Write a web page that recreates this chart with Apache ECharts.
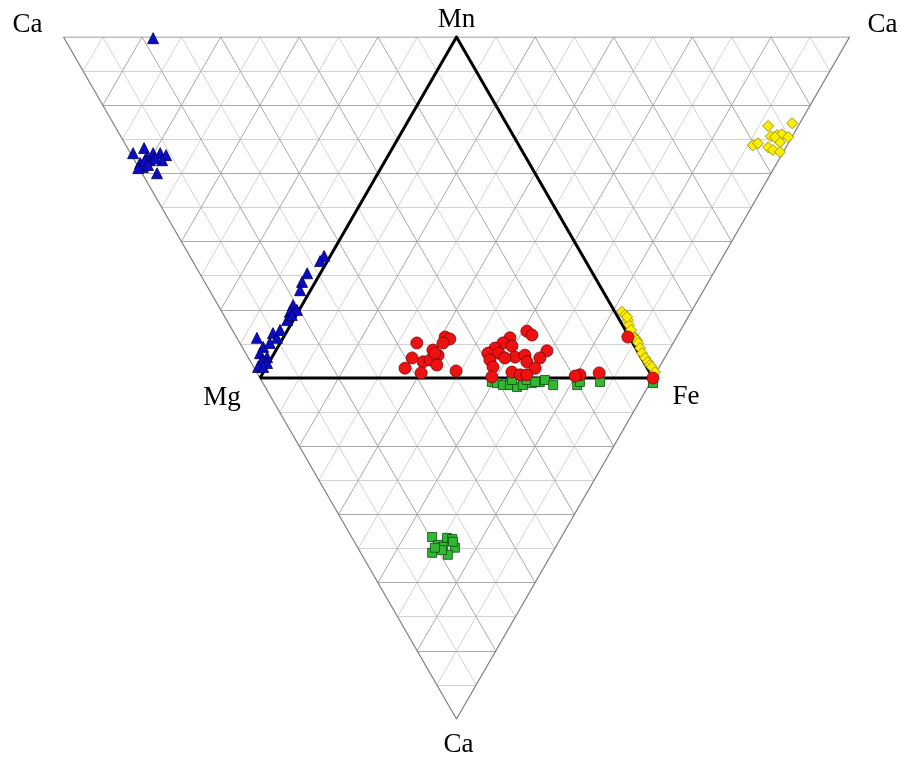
<!DOCTYPE html>
<html>
<head>
<meta charset="utf-8">
<script src="https://cdn.jsdelivr.net/npm/echarts@6/dist/echarts.min.js"></script>
<style>html,body{margin:0;padding:0;background:#fff}#c{width:902px;height:760px}</style>
</head>
<body>
<div id="c"></div>
<script>
// Ternary-plot coordinates: side of central Mg-Fe-Mn triangle = 100, Mg at (0,0), Fe at (100,0)
const H = 50 * Math.sqrt(3);
const vertexNames = ['Ca', 'Mn', 'Ca', 'Mg', 'Fe', 'Ca'];
const vertexCoords = [[-50, H], [50, H], [150, H], [0, 0], [100, 0], [50, -H]];
const gridDivisions = 20;

const blueTriangles = [
  [-27.2, 86.3],
  [-32.3, 57.1], [-29.5, 58.4], [-27.2, 57.1], [-25.4, 57.1], [-23.9, 56.6], [-30.5, 54.6],
  [-28.0, 55.3], [-29.8, 53.6], [-31.0, 53.3], [-26.2, 52.0], [-24.9, 55.3], [-28.8, 56.1],
  [-29.3, 55.3], [-26.7, 55.8], [-28.5, 54.1],
  [16.3, 31.0], [15.3, 29.7], [12.0, 26.6], [10.7, 24.4], [10.2, 22.3], [8.4, 18.5],
  [7.6, 16.8], [6.9, 14.7], [9.4, 17.3], [8.1, 16.0], [3.3, 11.4], [4.3, 10.2],
  [-0.8, 10.2], [0.8, 7.9], [0.0, 6.3], [1.8, 5.3], [0.5, 4.6], [-0.5, 2.8],
  [1.8, 3.8], [5.1, 12.2], [2.5, 8.9], [0.8, 2.8]
];
const yellowDiamonds = [
  [129.3, 64.0], [135.4, 64.7], [130.0, 61.4], [131.6, 61.7], [132.8, 61.9], [134.4, 61.2],
  [132.3, 59.9], [125.4, 59.1], [126.7, 59.6], [129.3, 58.6], [130.5, 57.9], [132.3, 57.4],
  [131.0, 61.2],
  [92.1, 16.8], [92.9, 16.0], [93.6, 14.7], [93.9, 13.5], [94.9, 10.9], [95.4, 10.2],
  [95.9, 9.6], [96.2, 8.9], [96.7, 7.6], [97.2, 6.3], [98.0, 5.1], [98.7, 4.1],
  [99.2, 3.3], [99.7, 2.8], [100.5, 1.5], [93.4, 15.5], [94.4, 12.2]
];
const redCircles = [
  [39.9, 8.9], [47.1, 10.4], [48.3, 9.9], [46.6, 8.9], [44.0, 7.1], [45.3, 5.8],
  [38.7, 5.1], [41.5, 4.1], [43.3, 4.6], [45.0, 3.3], [36.9, 2.5], [41.0, 1.3],
  [49.9, 1.8], [44.5, 6.3],
  [67.9, 11.9], [69.2, 10.9], [63.6, 10.2], [61.8, 8.9], [64.1, 8.1], [59.8, 7.6],
  [58.0, 6.3], [60.8, 6.3], [64.9, 5.3], [67.4, 5.8], [73.0, 6.9], [58.5, 4.6],
  [62.3, 5.1], [67.9, 4.1], [71.2, 5.1], [59.3, 2.8], [64.1, 1.5], [66.2, 0.8],
  [70.0, 2.5], [67.9, 0.8], [59.0, 0.3], [81.4, 0.8], [80.2, 0.5], [86.3, 1.3],
  [93.6, 10.4], [100.0, 0.0]
];
const greenSquares = [
  [59.0, -1.0], [60.3, -1.3], [61.8, -1.8], [63.6, -1.8], [65.4, -2.3], [66.9, -1.8],
  [69.2, -1.3], [71.2, -1.0], [72.5, -0.5], [74.6, -1.8], [80.7, -1.8], [81.4, -1.0],
  [86.5, -1.0], [100.0, -1.3], [64.1, -0.5], [67.9, -0.5], [70.0, -1.0],
  [43.8, -40.4], [47.6, -40.6], [48.9, -40.9], [45.3, -42.4], [46.6, -42.9], [49.6, -43.1],
  [43.8, -44.4], [47.8, -44.9], [46.3, -43.7], [49.1, -41.6], [44.5, -43.1]
];

// Build grid segments of the big inverted triangle
const A = vertexCoords[0], B = vertexCoords[2], C = vertexCoords[5];
function lerp(p, q, t) { return [p[0] + (q[0] - p[0]) * t, p[1] + (q[1] - p[1]) * t]; }
const minorSegs = [], majorSegs = [];
for (let i = 1; i < gridDivisions; i++) {
  const t = i / gridDivisions;
  const segs = [
    [lerp(A, C, t), lerp(B, C, t)],
    [lerp(A, B, t), lerp(C, B, t)],
    [lerp(B, A, t), lerp(C, A, t)]
  ];
  segs.forEach(s => (i % 2 === 0 ? majorSegs : minorSegs).push({ coords: s }));
}
const outline = [{ coords: [A, B, C, A] }];
const inner = [{ coords: [vertexCoords[3], vertexCoords[4], vertexCoords[1], vertexCoords[3]] }];

const labelOffsets = [[-36, -12], [0, -17], [33, -12], [-38, 20], [33, 19], [2, 26]];

const chart = echarts.init(document.getElementById('c'), null, { renderer: 'canvas' });
chart.setOption({
  backgroundColor: '#ffffff',
  animation: false,
  grid: { left: 63.5, top: 37, width: 786, height: 682 },
  xAxis: { type: 'value', min: -50, max: 150, show: false },
  yAxis: { type: 'value', min: -H, max: H, show: false },
  series: [
    { type: 'lines', coordinateSystem: 'cartesian2d', polyline: false, silent: true,
      lineStyle: { color: '#d2d2d2', width: 1, opacity: 1 }, data: minorSegs, z: 1 },
    { type: 'lines', coordinateSystem: 'cartesian2d', polyline: false, silent: true,
      lineStyle: { color: '#a9a9a9', width: 1, opacity: 1 }, data: majorSegs, z: 2 },
    { type: 'lines', coordinateSystem: 'cartesian2d', polyline: true, silent: true,
      lineStyle: { color: '#7f7f7f', width: 1.2, opacity: 1 }, data: outline, z: 3 },
    { type: 'lines', coordinateSystem: 'cartesian2d', polyline: true, silent: true,
      lineStyle: { color: '#000000', width: 3, opacity: 1 }, data: inner, z: 4 },
    { type: 'scatter', name: 'green', symbol: 'rect', symbolSize: 9, z: 5,
      itemStyle: { color: '#33b833', borderColor: '#0b4d0b', borderWidth: 0.8, opacity: 1 },
      data: greenSquares },
    { type: 'scatter', name: 'yellow', symbol: 'diamond', symbolSize: 11, z: 6,
      itemStyle: { color: '#ffee00', borderColor: '#8a7d00', borderWidth: 0.8, opacity: 1 },
      data: yellowDiamonds },
    { type: 'scatter', name: 'red', symbol: 'circle', symbolSize: 12, z: 7,
      itemStyle: { color: '#ee1111', borderColor: '#7a0000', borderWidth: 0.8, opacity: 1 },
      data: redCircles },
    { type: 'scatter', name: 'blue', symbol: 'triangle', symbolSize: 11, z: 8,
      itemStyle: { color: '#0b0bc8', borderColor: '#000050', borderWidth: 0.8, opacity: 1 },
      data: blueTriangles },
    { type: 'scatter', name: 'vertices', symbolSize: 0, silent: true, z: 9,
      data: vertexCoords.map((c, i) => ({
        value: c, name: vertexNames[i],
        label: { show: true, position: 'inside', formatter: '{b}', offset: labelOffsets[i],
          fontFamily: '"Liberation Serif", "DejaVu Serif", serif', fontSize: 27,
          color: '#000000', textBorderWidth: 0, opacity: 1 }
      })) }
  ]
});
</script>
</body>
</html>
